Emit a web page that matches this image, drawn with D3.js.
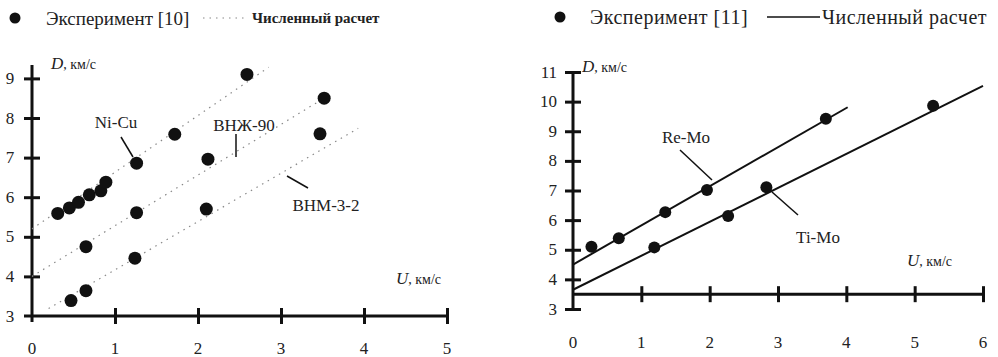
<!DOCTYPE html>
<html>
<head>
<meta charset="utf-8">
<script src="https://cdn.jsdelivr.net/npm/d3@7"></script>
<style>
  body { margin: 0; background: #fff; }
</style>
</head>
<body>
<svg id="chart" width="998" height="357" font-family="'Liberation Serif', 'Times New Roman', 'DejaVu Serif', serif"></svg>
<script>
// Left panel: experiment [10], U (km/s) vs D (km/s)
const niCuU = [0.31, 0.45, 0.56, 0.69, 0.83, 0.89, 1.26, 1.72, 2.59]
const niCuD = [5.59, 5.73, 5.87, 6.06, 6.16, 6.38, 6.86, 7.59, 9.1]
const vnzhU = [0.65, 1.26, 2.12, 3.52]
const vnzhD = [4.75, 5.61, 6.96, 8.5]
const vnmU = [0.47, 0.65, 1.24, 2.1, 3.47]
const vnmD = [3.39, 3.64, 4.46, 5.7, 7.6]
// computed lines, endpoints
const niCuCalcU = [0, 2.85]
const niCuCalcD = [5.2, 9.28]
const vnzhCalcU = [0, 3.58]
const vnzhCalcD = [4.0, 8.58]
const vnmCalcU = [0.2, 3.93]
const vnmCalcD = [3.19, 7.74]

// Right panel: experiment [11]
const reMoU = [0.27, 0.67, 1.35, 1.96, 3.7]
const reMoD = [5.1, 5.39, 6.27, 7.02, 9.42]
const tiMoU = [1.19, 2.27, 2.83, 5.27]
const tiMoD = [5.08, 6.14, 7.11, 9.86]
const reMoCalcU = [0, 4.02]
const reMoCalcD = [4.5, 9.81]
const tiMoCalcU = [0, 6.0]
const tiMoCalcD = [3.65, 10.53]

const leftXTicks = [0, 1, 2, 3, 4, 5]
const leftYTicks = [3, 4, 5, 6, 7, 8, 9]
const rightXTicks = [0, 1, 2, 3, 4, 5, 6]
const rightYTicks = [3, 4, 5, 6, 7, 8, 9, 10, 11]

const svg = d3.select("#chart")
const zip = (us, ds) => us.map((u, i) => [u, ds[i]])

function crossAxis(g, scale, orient, ticks, skipFirst) {
  const axis = (orient === "left" ? d3.axisLeft(scale) : d3.axisBottom(scale))
    .tickValues(ticks).tickSize(0).tickFormat("")
  g.call(axis)
  g.attr("font-family", null)
  g.select(".domain").remove()
  g.selectAll(".tick").filter((d, i) => skipFirst && i === 0).remove()
  if (orient === "left") {
    g.selectAll(".tick line").attr("x1", -8).attr("x2", 8)
  } else {
    g.selectAll(".tick line").attr("y1", -8).attr("y2", 8)
  }
  g.selectAll(".tick line").attr("stroke", "#111").attr("stroke-width", 3)
}

function tickLabels(ticks, pos, anchor) {
  svg.append("g")
    .selectAll("text")
    .data(ticks)
    .enter()
    .append("text")
    .attr("x", d => pos(d)[0])
    .attr("y", d => pos(d)[1])
    .attr("text-anchor", anchor)
    .attr("dominant-baseline", "central")
    .attr("font-size", 17)
    .attr("fill", "#222")
    .text(d => d)
}

function axisTitle(x, y, sym, size) {
  const t = svg.append("text").attr("x", x).attr("y", y).attr("fill", "#222")
  t.append("tspan").attr("font-style", "italic").attr("font-size", size).text(sym)
  t.append("tspan").attr("font-size", size - 3).text(", км/с")
}

function calcLine(us, ds, x, y, dashed) {
  svg.append("path")
    .datum(zip(us, ds))
    .attr("d", d3.line().x(d => x(d[0])).y(d => y(d[1])))
    .attr("fill", "none")
    .attr("stroke", dashed ? "#888" : "#111")
    .attr("stroke-width", dashed ? 1.2 : 2)
    .attr("stroke-dasharray", dashed ? "1.5,5" : null)
}

function dots(us, ds, x, y, r) {
  svg.append("g")
    .selectAll("circle")
    .data(zip(us, ds))
    .enter()
    .append("circle")
    .attr("cx", d => x(d[0]))
    .attr("cy", d => y(d[1]))
    .attr("r", r)
    .attr("fill", "#111")
}

function leader(x1, y1, x2, y2) {
  svg.append("line")
    .attr("x1", x1).attr("y1", y1).attr("x2", x2).attr("y2", y2)
    .attr("stroke", "#111").attr("stroke-width", 1.5)
}

function label(x, y, txt) {
  svg.append("text")
    .attr("x", x).attr("y", y)
    .attr("text-anchor", "middle")
    .attr("dominant-baseline", "central")
    .attr("font-size", 17)
    .attr("fill", "#222")
    .text(txt)
}

// ---------- left panel ----------
const xL = d3.scaleLinear().domain([0, 5]).range([32, 447])
const yL = d3.scaleLinear().domain([3, 9]).range([316, 78.4])

// axis lines
svg.append("line").attr("x1", xL(0)).attr("x2", xL(0)).attr("y1", yL(3) + 6).attr("y2", 65)
  .attr("stroke", "#111").attr("stroke-width", 3)
svg.append("line").attr("x1", xL(0) - 8).attr("x2", xL(5)).attr("y1", yL(3)).attr("y2", yL(3))
  .attr("stroke", "#111").attr("stroke-width", 3)
crossAxis(svg.append("g").attr("transform", `translate(${xL(0)},0)`), yL, "left", leftYTicks, true)
crossAxis(svg.append("g").attr("transform", `translate(0,${yL(3)})`), xL, "bottom", leftXTicks, true)

tickLabels(leftYTicks, d => [10, yL(d)], "middle")
tickLabels(leftXTicks, d => [xL(d), 348], "middle")
axisTitle(51, 69, "D", 17)
axisTitle(396, 284, "U", 17)

calcLine(niCuCalcU, niCuCalcD, xL, yL, true)
calcLine(vnzhCalcU, vnzhCalcD, xL, yL, true)
calcLine(vnmCalcU, vnmCalcD, xL, yL, true)
dots(niCuU, niCuD, xL, yL, 6.5)
dots(vnzhU, vnzhD, xL, yL, 6.5)
dots(vnmU, vnmD, xL, yL, 6.5)

label(116, 122, "Ni-Cu")
leader(121, 137, 133, 157)
label(244, 125, "ВНЖ-90")
leader(236, 134, 236, 157)
label(326, 205, "ВНМ-3-2")
leader(287, 176, 308, 188)

// legend left
svg.append("circle").attr("cx", 15).attr("cy", 18).attr("r", 5.5).attr("fill", "#111")
svg.append("text").attr("x", 46).attr("y", 18).attr("dominant-baseline", "central")
  .attr("font-size", 19).attr("fill", "#222").text("Эксперимент [10]")
svg.append("line").attr("x1", 203).attr("x2", 248).attr("y1", 18).attr("y2", 18)
  .attr("stroke", "#888").attr("stroke-width", 1.2).attr("stroke-dasharray", "1.5,5")
svg.append("text").attr("x", 252).attr("y", 18).attr("dominant-baseline", "central")
  .attr("font-size", 15).attr("font-weight", "bold").attr("fill", "#222").text("Численный расчет")

// ---------- right panel ----------
const xR = d3.scaleLinear().domain([0, 6]).range([573, 983])
const yR = d3.scaleLinear().domain([3, 11]).range([309, 72])
const xAxisD = 3.5

svg.append("line").attr("x1", xR(0)).attr("x2", xR(0)).attr("y1", yR(3)).attr("y2", yR(11))
  .attr("stroke", "#111").attr("stroke-width", 3)
svg.append("line").attr("x1", xR(0)).attr("x2", xR(6)).attr("y1", yR(xAxisD)).attr("y2", yR(xAxisD))
  .attr("stroke", "#111").attr("stroke-width", 3)
crossAxis(svg.append("g").attr("transform", `translate(${xR(0)},0)`), yR, "left", rightYTicks, false)
crossAxis(svg.append("g").attr("transform", `translate(0,${yR(xAxisD)})`), xR, "bottom", rightXTicks, true)

tickLabels(rightYTicks, d => [557, yR(d)], "end")
tickLabels(rightXTicks, d => [xR(d), 342], "middle")
axisTitle(582, 72, "D", 17)
axisTitle(907, 266, "U", 17)

calcLine(reMoCalcU, reMoCalcD, xR, yR, false)
calcLine(tiMoCalcU, tiMoCalcD, xR, yR, false)
dots(reMoU, reMoD, xR, yR, 6)
dots(tiMoU, tiMoD, xR, yR, 6)

label(686, 137, "Re-Mo")
leader(680, 150, 712, 180)
label(818, 237, "Ti-Mo")
leader(772, 192, 798, 215)

// legend right
svg.append("circle").attr("cx", 560).attr("cy", 17).attr("r", 5.5).attr("fill", "#111")
svg.append("text").attr("x", 590).attr("y", 17).attr("dominant-baseline", "central")
  .attr("font-size", 20).attr("letter-spacing", 0.5).attr("fill", "#222").text("Эксперимент [11]")
svg.append("line").attr("x1", 767).attr("x2", 820).attr("y1", 17).attr("y2", 17)
  .attr("stroke", "#111").attr("stroke-width", 1.3)
svg.append("text").attr("x", 822).attr("y", 17).attr("dominant-baseline", "central")
  .attr("font-size", 20).attr("letter-spacing", 0.5).attr("fill", "#222").text("Численный расчет")
</script>
</body>
</html>
